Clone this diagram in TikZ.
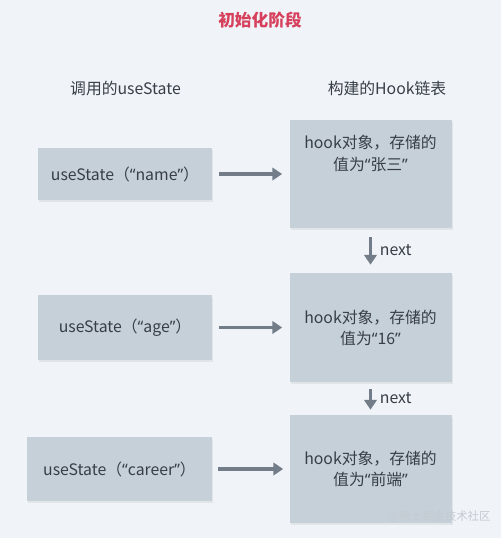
\documentclass[tikz,border=0pt]{standalone}
\usepackage{fontspec}
\setmainfont{Noto Sans CJK SC}
\newfontfamily\quotefont{Noto Sans}
\newcommand{\quoted}[1]{{\quotefont “}#1{\quotefont ”}}
\usetikzlibrary{arrows.meta, positioning, shadows}
\definecolor{pagebg}{RGB}{240,243,247}
\definecolor{boxgray}{RGB}{198,208,217}
\definecolor{arrowgray}{RGB}{115,125,137}
\definecolor{textdark}{RGB}{55,62,71}
\definecolor{titlered}{RGB}{214,64,92}
\definecolor{markgray}{RGB}{196,202,210}

\begin{document}
\begin{tikzpicture}[every node/.style={font=\fontsize{9}{12}\selectfont, text=textdark},
    callbox/.style={fill=boxgray, minimum width=3.48cm, align=center,
      drop shadow={shadow xshift=0.02cm, shadow yshift=-0.03cm, opacity=0.12}},
    hookbox/.style={fill=boxgray, minimum width=3.24cm, align=center,
      drop shadow={shadow xshift=0.02cm, shadow yshift=-0.03cm, opacity=0.12}},
    link/.style={-{Triangle[length=5.5pt,width=7pt]}, line width=1.9pt, draw=arrowgray}]
  \fill[pagebg] (0,0) rectangle (10.02,-10.76);
  \useasboundingbox (0,0) rectangle (10.02,-10.76);

  \node[font=\fontsize{9.5}{11}\bfseries\selectfont, text=titlered] (title) at (5.2,-0.4) {初始化阶段};
  \node (calls) at (2.51,-1.76) {调用的useState};
  \node (chain) at (7.74,-1.76) {构建的Hook链表};

  % calls on the left
  \node[callbox, minimum height=1.04cm] (c1) at (2.5,-3.48) {useState（\quoted{name}）};
  \node[callbox, minimum height=1.3cm] (c2) at (2.5,-6.55) {useState（\quoted{age}）};
  \node[callbox, minimum width=3.7cm, minimum height=1.28cm] (c3) at (2.39,-9.38) {useState（\quoted{career}）};

  % hook list on the right
  \node[hookbox, minimum height=2.16cm] (h1) at (7.41,-3.48) {};
  \node[align=center] (t1) at (7.41,-3.07) {hook对象，存储的\\值为\quoted{张三}};
  \node[hookbox, minimum height=2.18cm] (h2) at (7.41,-6.55) {hook对象，存储的\\值为\quoted{16}};
  \node[hookbox, minimum height=2.16cm] (h3) at (7.41,-9.38) {hook对象，存储的\\值为\quoted{前端}};

  \draw[link, shorten <=0.14cm, shorten >=0.14cm] (c1) -- (h1);
  \draw[link, shorten <=0.14cm, shorten >=0.14cm] (c2) -- (h2);
  \draw[link, shorten <=0.12cm, shorten >=0.12cm] (c3.east) -- (h3.west |- c3.east);
  \draw[link, shorten <=0.18cm, shorten >=0.16cm] (h1) -- node[right=0.12cm, inner sep=1pt] {next} (h2);
  \draw[link, shorten <=0.14cm, shorten >=0.1cm] (h2) -- node[right=0.12cm, inner sep=1pt] {next} (h3);

  \node[font=\fontsize{6.5}{8}\selectfont, text=markgray] (mark) at (8.79,-10.34) {@稀土掘金技术社区};
\end{tikzpicture}
\end{document}
